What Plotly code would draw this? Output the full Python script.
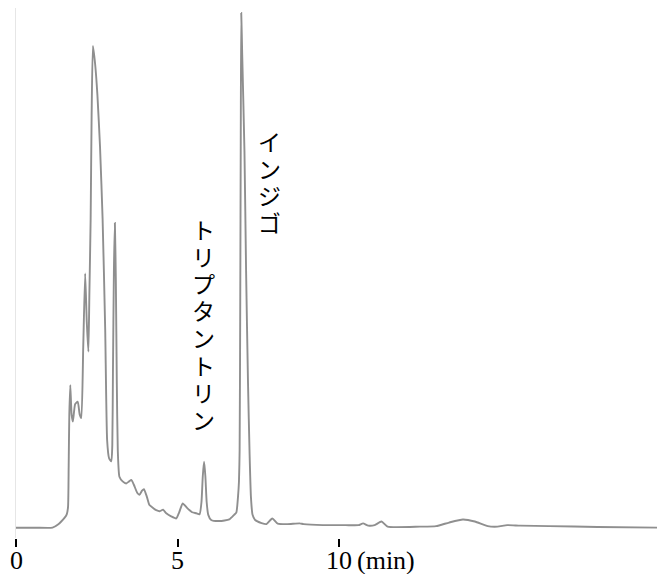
import plotly.graph_objects as go

# Retention time (min) and detector response (relative, indigo peak = 100)
time_min = [0.0, 0.6, 1.13, 1.3, 1.4, 1.5, 1.57, 1.61, 1.63, 1.65, 1.68, 1.72, 1.76, 1.83, 1.91, 1.97, 2.02,
            2.08, 2.14, 2.19, 2.24, 2.27, 2.31, 2.34, 2.38, 2.45, 2.52, 2.6, 2.68, 2.76, 2.82, 2.88, 2.95,
            2.98, 3.0, 3.03, 3.06, 3.09, 3.12, 3.15, 3.2, 3.3, 3.41, 3.5, 3.57, 3.65, 3.75, 3.82, 3.9, 3.96,
            4.05, 4.13, 4.25, 4.34, 4.45, 4.55, 4.65, 4.8, 4.96, 5.05, 5.16, 5.3, 5.45, 5.58, 5.68, 5.74,
            5.78, 5.82, 5.86, 5.9, 5.95, 6.04, 6.3, 6.6, 6.75, 6.82, 6.87, 6.9, 6.92, 6.94, 6.955, 6.97,
            7.0, 7.07, 7.12, 7.18, 7.23, 7.27, 7.32, 7.4, 7.6, 7.75, 7.93, 8.1, 8.4, 8.78, 8.9, 9.5, 10.2,
            10.6, 10.74, 10.9, 11.1, 11.31, 11.5, 12.5, 13.0, 13.4, 13.83, 14.2, 14.6, 14.9, 15.2, 15.6,
            16.5, 18.0, 20.1]
response = [0.0, 0.0, 0.0, 0.6, 1.2, 1.9, 2.6, 4.0, 12.0, 22.0, 27.7, 22.0, 20.6, 24.0, 24.5, 22.0, 21.3,
            35.0, 49.4, 40.0, 34.2, 45.0, 60.0, 80.0, 93.6, 90.0, 84.0, 74.0, 60.0, 38.6, 17.0, 13.5, 12.9,
            16.0, 30.0, 50.0, 59.2, 48.0, 28.0, 15.0, 9.9, 9.0, 8.6, 9.0, 9.3, 8.3, 6.8, 6.4, 7.2, 7.5,
            6.0, 4.4, 3.8, 3.4, 3.2, 3.5, 2.8, 2.2, 1.8, 3.0, 4.7, 3.8, 3.0, 2.8, 2.6, 5.0,
            10.0, 12.8, 10.0, 5.0, 2.5, 1.5, 1.3, 1.6, 2.5, 3.0, 6.0, 9.0, 15.0, 45.0, 75.0, 100.0,
            92.0, 73.0, 50.0, 28.0, 14.0, 6.0, 2.5, 1.5, 0.9, 0.7, 1.8, 0.8, 0.7, 0.85, 0.7, 0.5, 0.5,
            0.5, 0.85, 0.4, 0.5, 1.2, 0.2, 0.2, 0.3, 1.0, 1.6, 1.2, 0.3, 0.2, 0.5, 0.4,
            0.3, 0.15, 0.0]

tick_vals = [0, 5, 10]
tick_text = ["0", "5", "10"]
unit_label = "(min)"
peak_labels = ["トリプタントリン", "インジゴ"]

# The page's 8px body margin shifts the figure; work in page pixels and convert.
OFF = 8
FIG_W, FIG_H = 665 - OFF, 574 - OFF
PX_PER_MIN = 32.3
PX_PER_UNIT = 5.147
X0_PAGE = 16.3            # page x of t = 0
BASE_PAGE = 527.7         # page y of zero response
PLOT_BOTTOM_PAGE = 538.0  # page y where ticks start
M_L = X0_PAGE - OFF
M_B = FIG_H - (PLOT_BOTTOM_PAGE - OFF)
PLOT_H = FIG_H - M_B
PLOT_W = FIG_W - M_L
BELOW = PLOT_BOTTOM_PAGE - BASE_PAGE


def px_to_t(px):
    return (px - X0_PAGE) / PX_PER_MIN


def px_to_v(py):
    return (BASE_PAGE - py) / PX_PER_UNIT


def py_to_paper(py):
    return (PLOT_BOTTOM_PAGE - py) / PLOT_H


fig = go.Figure()
fig.add_trace(go.Scatter(x=time_min, y=response, mode="lines",
                         line=dict(color="#8f8f8f", width=1.9, shape="spline", smoothing=0.5),
                         hoverinfo="skip", showlegend=False))

annotations = []
# vertical Japanese labels: one upright character per step (centre x, first glyph centre y, pitch)
label_specs = [(peak_labels[0], 204, 229, 27.1), (peak_labels[1], 270, 141, 27.0)]
for text, cx, first, pitch in label_specs:
    for i, ch in enumerate(text):
        annotations.append(dict(x=px_to_t(cx), y=px_to_v(first + pitch * i), xref="x", yref="y",
                                text=ch, showarrow=False, xanchor="center", yanchor="middle",
                                font=dict(family="Noto Sans CJK JP", size=23, color="black")))

# tick labels drawn as annotations so that their vertical position can be matched
LABEL_Y = py_to_paper(560)
for v, s in zip(tick_vals, tick_text):
    annotations.append(dict(x=v, y=LABEL_Y, xref="x", yref="paper", text=s, showarrow=False,
                            xanchor="center", yanchor="middle",
                            font=dict(family="Liberation Serif", size=26, color="black")))
annotations.append(dict(x=px_to_t(355), y=LABEL_Y, xref="x", yref="paper", text=unit_label,
                        showarrow=False, xanchor="left", yanchor="middle",
                        font=dict(family="Liberation Serif", size=26, color="black")))

fig.update_layout(
    width=FIG_W, height=FIG_H,
    margin=dict(l=M_L, r=0, t=0, b=M_B, pad=0),
    paper_bgcolor="white", plot_bgcolor="white",
    annotations=annotations,
    xaxis=dict(range=[0, PLOT_W / PX_PER_MIN], tickvals=tick_vals, showticklabels=False,
               ticks="outside", ticklen=8, tickwidth=2, tickcolor="black",
               showgrid=False, zeroline=False, showline=False),
    yaxis=dict(range=[-BELOW / PX_PER_UNIT, (BASE_PAGE - OFF) / PX_PER_UNIT], showticklabels=False,
               ticks="", showgrid=False, zeroline=False, showline=True, linecolor="#e6e6e6", linewidth=1),
)

fig.write_html("out.html")
